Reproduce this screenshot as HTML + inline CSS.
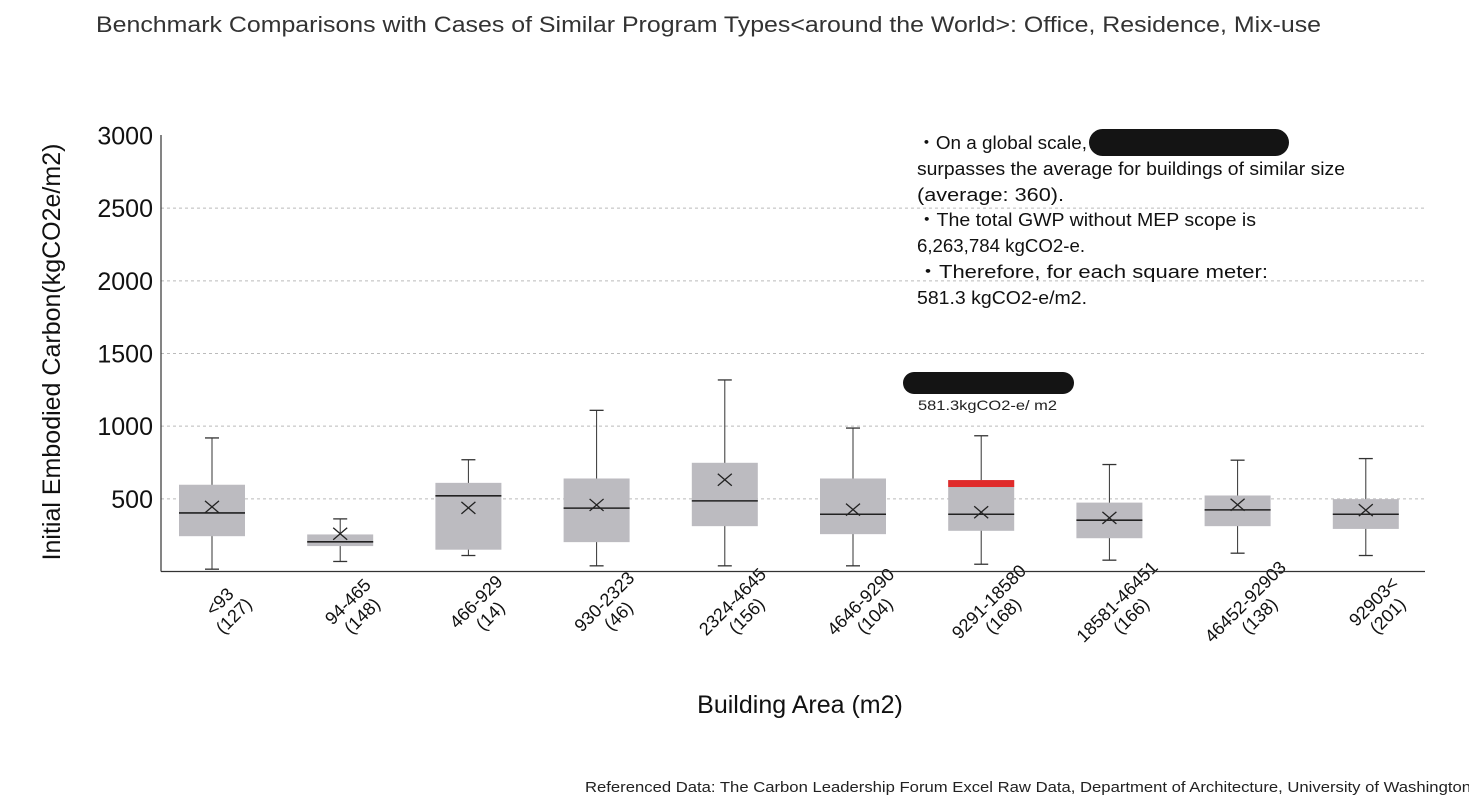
<!DOCTYPE html>
<html><head><meta charset="utf-8"><style>
body{margin:0;background:#fff;width:1469px;height:798px;overflow:hidden}
svg{display:block}
</style></head><body>
<svg id="chart" width="1469" height="798" xmlns="http://www.w3.org/2000/svg" font-family="Liberation Sans, sans-serif">
<text x="96" y="32" font-size="22" fill="#333" textLength="1225" lengthAdjust="spacingAndGlyphs">Benchmark Comparisons with Cases of Similar Program Types&lt;around the World&gt;: Office, Residence, Mix-use</text>
<g id="grid"></g>
<g id="boxes"></g>
<g id="xlabels"></g>
<line x1="161" y1="135" x2="161" y2="571.5" stroke="#333" stroke-width="1.2"/>
<line x1="161" y1="571.5" x2="1425" y2="571.5" stroke="#333" stroke-width="1.2"/>
<text transform="translate(60,352) rotate(-90)" text-anchor="middle" font-size="25" fill="#111">Initial Embodied Carbon(kgCO2e/m2)</text>
<text x="800" y="713" text-anchor="middle" font-size="25" fill="#111">Building Area (m2)</text>
<g font-size="18" fill="#111" lengthAdjust="spacingAndGlyphs">
<text x="917" y="149" textLength="170" lengthAdjust="spacingAndGlyphs">・On a global scale,</text>
<text x="917" y="175" textLength="428" lengthAdjust="spacingAndGlyphs">surpasses the average for buildings of similar size</text>
<text x="917" y="201" textLength="147" lengthAdjust="spacingAndGlyphs">(average: 360).</text>
<text x="917" y="226" textLength="339" lengthAdjust="spacingAndGlyphs">・The total GWP without MEP scope is</text>
<text x="917" y="252" textLength="168" lengthAdjust="spacingAndGlyphs">6,263,784 kgCO2-e.</text>
<text x="917" y="278" textLength="351" lengthAdjust="spacingAndGlyphs">・Therefore, for each square meter:</text>
<text x="917" y="304" textLength="170" lengthAdjust="spacingAndGlyphs">581.3 kgCO2-e/m2.</text>
</g>
<rect x="1089" y="129" width="200" height="27" rx="13.5" fill="#141414"/>
<rect x="903" y="372" width="171" height="22" rx="11" fill="#141414"/>
<text x="918" y="410" font-size="14" fill="#222" textLength="139" lengthAdjust="spacingAndGlyphs">581.3kgCO2-e/ m2</text>
<text x="585" y="792" font-size="15" fill="#222" textLength="886" lengthAdjust="spacingAndGlyphs">Referenced Data: The Carbon Leadership Forum Excel Raw Data, Department of Architecture, University of Washington</text>
</svg>
<script>
const categories=["<93","94-465","466-929","930-2323","2324-4645","4646-9290","9291-18580","18581-46451","46452-92903","92903<"];
const counts=["(127)","(148)","(14)","(46)","(156)","(104)","(168)","(166)","(138)","(201)"];
const whiskerLow=[16,69,110,39,39,39,50,78,126,110];
const q1=[243,175,150,202,312,257,280,229,312,293];
const median=[403,204,521,436,486,394,394,353,424,394];
const mean=[445,260,438,458,631,426,408,369,459,422];
const q3=[597,255,610,640,748,640,629,474,523,498];
const whiskerHigh=[919,362,769,1109,1318,987,934,736,766,777];
const yTicks=[500,1000,1500,2000,2500,3000];
const highlightIndex=6;
const highlightValue=581.3;

const NS="http://www.w3.org/2000/svg";
const y=v=>571.5-v*0.14533;
const x=i=>212+i*128.2;
function mk(tag,attrs,parent){const e=document.createElementNS(NS,tag);for(const k in attrs)e.setAttribute(k,attrs[k]);parent.appendChild(e);return e;}
const grid=document.getElementById('grid'),boxes=document.getElementById('boxes'),xl=document.getElementById('xlabels');
yTicks.forEach(t=>{
  if(t<3000){const l=mk('line',{x1:161,x2:1425,y1:y(t),y2:y(t),stroke:'#bbb','stroke-dasharray':'3,3','stroke-width':1},grid);
  
  }
  const tx=mk('text',{x:153,y:y(t)+9,'text-anchor':'end','font-size':25,fill:'#111'},grid);
  tx.textContent=t;
  
  
});
const hw=33;
categories.forEach((c,i)=>{
  const cx=x(i);
  const g=mk('g',{},boxes);
  
  
  mk('line',{x1:cx,x2:cx,y1:y(whiskerHigh[i]),y2:y(whiskerLow[i]),stroke:'#333','stroke-width':1},g);
  mk('line',{x1:cx-7,x2:cx+7,y1:y(whiskerHigh[i]),y2:y(whiskerHigh[i]),stroke:'#333','stroke-width':1.3},g);
  mk('line',{x1:cx-7,x2:cx+7,y1:y(whiskerLow[i]),y2:y(whiskerLow[i]),stroke:'#333','stroke-width':1.3},g);
  mk('rect',{x:cx-hw,y:y(q3[i]),width:hw*2,height:y(q1[i])-y(q3[i]),fill:'#bcbbc0'},g);
  if(i===highlightIndex){const r=mk('rect',{x:cx-hw,y:y(q3[i]),width:hw*2,height:y(highlightValue)-y(q3[i]),fill:'#e02a2a'},g);
    
    }
  mk('line',{x1:cx-hw,x2:cx+hw,y1:y(median[i]),y2:y(median[i]),stroke:'#222','stroke-width':1.6},g);
  const my=y(mean[i]);
  mk('path',{d:`M${cx-7},${my-6}L${cx+7},${my+6}M${cx-7},${my+6}L${cx+7},${my-6}`,stroke:'#222','stroke-width':1.3,fill:'none'},g);
  const lg=mk('g',{transform:`translate(${cx+12},606) rotate(-45)`,'font-size':18,fill:'#111','text-anchor':'middle'},xl);
  
  
  mk('text',{x:0,y:0},lg).textContent=c;
  mk('text',{x:0,y:20},lg).textContent=counts[i];
});
</script>
</body></html>
